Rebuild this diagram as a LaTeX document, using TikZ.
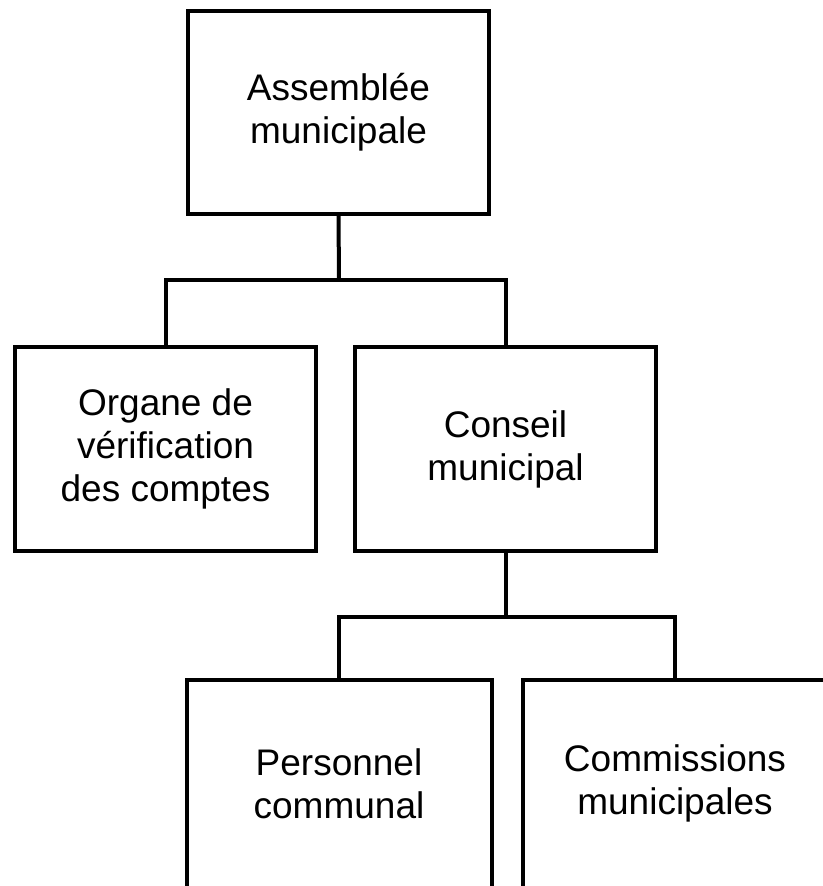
\documentclass[tikz,border=0pt]{standalone}
\usepackage{fontspec}
\setmainfont{Liberation Sans}
\usetikzlibrary{calc}
\tikzset{
	orgbox/.style={draw=black, line width=2pt, align=center, inner sep=0pt,
		minimum width=150.5pt, minimum height=101.5pt,
		font=\fontsize{18.5}{21.5}\selectfont},
	openbox/.style={orgbox, draw=none},
	link/.style={line width=2pt, black}
}

\begin{document}
\begin{tikzpicture}[x=0.5pt, y=-0.5pt]
	\useasboundingbox (0,0) rectangle (822,886);

	% Boites
	\node[orgbox] (assemblee) at (338.5,112.5) {Assemblée\\municipale};
	\node[orgbox] (organe) at (165.5,449) {Organe de\\vérification\\des comptes};
	\node[orgbox] (conseil) at (505.5,449) {Conseil\\municipal};
	\node[openbox] (personnel) at (339,783.5) {Personnel\\communal};
	\node[openbox, minimum width=150pt] (commissions) at (675,783.5) {Commissions\\municipales};

	% Boites coupees en bas
	\draw[link] ($(personnel.south west)+(0,20)$) -- (personnel.north west)
		-- (personnel.north east) -- ($(personnel.south east)+(0,20)$);
	\draw[link] ($(commissions.south west)+(0,20)$) -- (commissions.north west)
		-- (commissions.north east) -- ($(commissions.south east)+(0,20)$);

	%% Liaisons
	\coordinate (j1) at (339,280);
	\coordinate (j2) at (505.5,617);
	\draw[link] (assemblee.south) -- (j1);
	\draw[link] (organe.north) |- (j1) -| (conseil.north);
	\draw[link] (conseil.south) -- (j2);
	\draw[link] (personnel.north) |- (j2) -| (commissions.north);
\end{tikzpicture}
\end{document}
